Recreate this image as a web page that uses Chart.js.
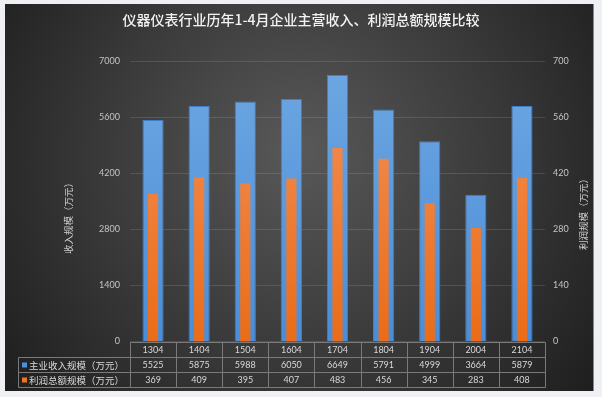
<!DOCTYPE html>
<html><head><meta charset="utf-8">
<script src="https://cdn.jsdelivr.net/npm/chart.js@4/dist/chart.umd.min.js"></script>
<style>html,body{margin:0;padding:0;background:#eef0f3;}#wrap{width:602px;height:397px;}</style>
</head><body><div id="wrap"><canvas id="c" width="602" height="397"></canvas></div>
<script>
const chartTitle = '仪器仪表行业历年1-4月企业主营收入、利润总额规模比较';
const categories = ['1304','1404','1504','1604','1704','1804','1904','2004','2104'];
const revenue = [5525,5875,5988,6050,6649,5791,4999,3664,5879];
const profit = [369,409,395,407,483,456,345,283,408];
const revenueTicks = [0,1400,2800,4200,5600,7000];
const profitTicks = [0,140,280,420,560,700];
const seriesNames = ['主业收入规模（万元）','利润总额规模（万元）'];
const axisTitles = ['收入规模（万元）','利润规模（万元）'];

const NUM_FONT = "Lato, 'Noto Sans CJK SC', sans-serif";
const CJK_FONT = "'Noto Sans CJK SC', Lato, sans-serif";

function vGrad(ctx, area, top, bottom) {
  if (!area) return bottom;
  const g = ctx.createLinearGradient(0, area.top, 0, area.bottom);
  g.addColorStop(0, top);
  g.addColorStop(1, bottom);
  return g;
}

const bgPlugin = {
  id: 'panel',
  beforeDraw(chart) {
    const ctx = chart.ctx;
    ctx.save();
    ctx.fillStyle = '#eef0f3';
    ctx.fillRect(0, 0, chart.width, chart.height);
    const g = ctx.createRadialGradient(300, 150, 10, 300, 170, 380);
    g.addColorStop(0, '#575757');
    g.addColorStop(0.5, '#3a3a3a');
    g.addColorStop(1, '#1c1c1c');
    ctx.fillStyle = g;
    ctx.fillRect(5, 4, 588.5, 387);
    ctx.restore();
  }
};

const tablePlugin = {
  id: 'dataTable',
  afterDraw(chart) {
    const {ctx, chartArea: ca, scales: {x}} = chart;
    const n = categories.length;
    const cw = (ca.right - ca.left) / n;
    const rowH = 15;
    const y0 = Math.round(ca.bottom) + 0.5;
    const legLeft = 18.5;
    const left = Math.round(ca.left) + 0.5;
    const right = Math.round(ca.right) + 0.5;
    ctx.save();
    ctx.strokeStyle = '#7a7a7a';
    ctx.lineWidth = 1;
    ctx.beginPath();
    ctx.moveTo(left, y0); ctx.lineTo(right, y0);
    for (let r = 1; r <= 3; r++) {
      ctx.moveTo(legLeft, y0 + r * rowH); ctx.lineTo(right, y0 + r * rowH);
    }
    ctx.moveTo(legLeft, y0 + rowH); ctx.lineTo(legLeft, y0 + 3 * rowH);
    for (let i = 0; i <= n; i++) {
      const px = i < n ? Math.round(x.getPixelForValue(i) - cw / 2) + 0.5 : right;
      ctx.moveTo(px, y0); ctx.lineTo(px, y0 + 3 * rowH);
    }
    ctx.stroke();

    ctx.fillStyle = '#d9d9d9';
    ctx.textAlign = 'center';
    ctx.textBaseline = 'middle';
    ctx.font = '9px ' + NUM_FONT;
    const rows = [categories, revenue, profit];
    rows.forEach((row, r) => {
      row.forEach((v, i) => {
        ctx.fillText(String(v), x.getPixelForValue(i), y0 + r * rowH + rowH / 2 + 0.5);
      });
    });
    const colors = ['#4a90dc', '#ee7426'];
    ctx.textAlign = 'left';
    ctx.font = '9.5px ' + CJK_FONT;
    seriesNames.forEach((name, k) => {
      const cy = y0 + (k + 1) * rowH + rowH / 2;
      ctx.fillStyle = colors[k];
      ctx.fillRect(22, cy - 2.5, 5, 5);
      ctx.fillStyle = '#d9d9d9';
      ctx.fillText(name, 29, cy + 0.5);
    });

    // axis titles
    ctx.font = '9.5px ' + CJK_FONT;
    ctx.fillStyle = '#cfcfcf';
    ctx.textAlign = 'center';
    [[68, 216, axisTitles[0]], [583, 212, axisTitles[1]]].forEach(([tx, ty, t]) => {
      ctx.save();
      ctx.translate(tx, ty);
      ctx.rotate(-Math.PI / 2);
      ctx.fillText(t, 0, 0);
      ctx.restore();
    });
    ctx.restore();
  }
};

new Chart(document.getElementById('c'), {
  type: 'bar',
  data: {
    labels: categories,
    datasets: [
      {
        label: seriesNames[0],
        data: revenue,
        yAxisID: 'y',
        order: 2,
        grouped: false,
        categoryPercentage: 1,
        barPercentage: 0.46,
        borderWidth: 1,
        borderColor: '#3f7fc6',
        backgroundColor: c => vGrad(c.chart.ctx, c.chart.chartArea, '#6ea7e2', '#4a8dd8')
      },
      {
        label: seriesNames[1],
        data: profit,
        yAxisID: 'y1',
        order: 1,
        grouped: false,
        categoryPercentage: 1,
        barPercentage: 0.22,
        borderWidth: 0,
        backgroundColor: c => vGrad(c.chart.ctx, c.chart.chartArea, '#f4925a', '#ea6c18')
      }
    ]
  },
  options: {
    responsive: false,
    devicePixelRatio: 1,
    animation: false,
    layout: { padding: { top: 0, left: 0, right: 0, bottom: 55.5 } },
    plugins: {
      legend: { display: false },
      tooltip: { enabled: false },
      title: {
        display: true,
        text: chartTitle,
        color: '#f2f2f2',
        font: { family: CJK_FONT, size: 14, weight: '500', lineHeight: 1.2 },
        padding: { top: 11.5, bottom: 32.7 }
      }
    },
    scales: {
      x: { display: false, offset: true },
      y: {
        position: 'left',
        min: 0, max: 7000,
        afterBuildTicks: s => { s.ticks = revenueTicks.map(v => ({ value: v })); },
        afterFit: s => { s.width = 130; },
        grid: { color: 'rgba(255,255,255,0.12)', drawTicks: false },
        border: { display: false },
        ticks: { color: '#c4c4c4', padding: 10, font: { family: NUM_FONT, size: 9 }, callback: v => String(v) }
      },
      y1: {
        position: 'right',
        min: 0, max: 700,
        afterBuildTicks: s => { s.ticks = profitTicks.map(v => ({ value: v })); },
        afterFit: s => { s.width = 57; },
        grid: { display: false, drawTicks: false },
        border: { display: false },
        ticks: { color: '#c4c4c4', padding: 8, font: { family: NUM_FONT, size: 9 }, callback: v => String(v) }
      }
    }
  },
  plugins: [bgPlugin, tablePlugin]
});
</script>
</body></html>
